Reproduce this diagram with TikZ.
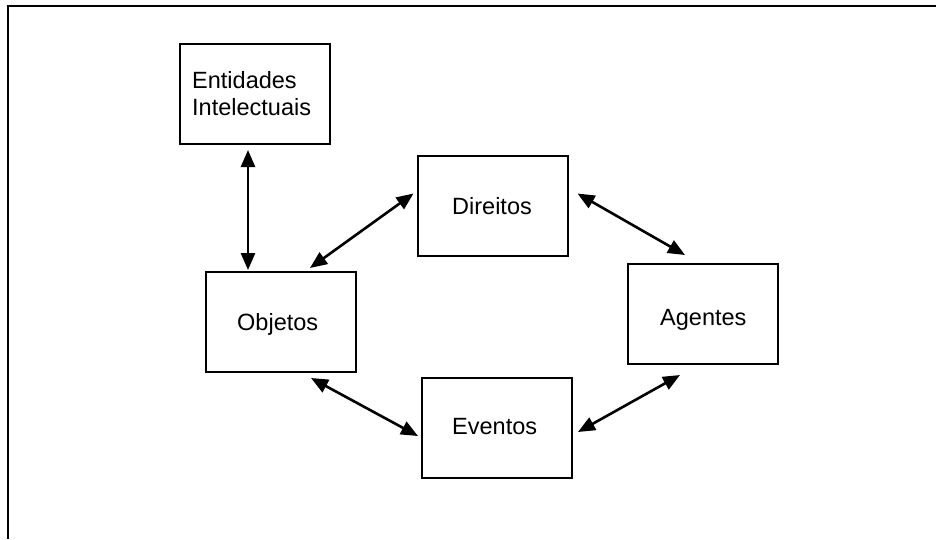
\documentclass[tikz,border=0pt]{standalone}
\usepackage{fontspec}
\setmainfont{Liberation Sans}
\usetikzlibrary{arrows.meta,calc}
\begin{document}
\begin{tikzpicture}[x=1pt,y=-1pt,
  box/.style={draw,line width=2pt,minimum width=150pt,minimum height=100pt,inner sep=0pt},
  lbl/.style={anchor=base west,inner sep=0pt,font=\fontsize{23.5}{27}\selectfont},
  link/.style={line width=2.6pt,{Triangle[length=17pt,width=14pt]}-{Triangle[length=17pt,width=14pt]}}]
\useasboundingbox (0,0) rectangle (936,539);
\draw[line width=2.4pt] (8,539) -- (8,6) -- (937,6);
\node[box] (ent) at (255,94) {};
\node[box] (dir) at (492.5,205.5) {};
\node[box] (obj) at (281,322) {};
\node[box] (age) at (703,314) {};
\node[box] (eve) at (497,428) {};
\node[lbl,align=left] (tent) at (192,115) {Entidades\\Intelectuais};
\node[lbl] (tdir) at (452,214) {Direitos};
\node[lbl] (tobj) at (237,330) {Objetos};
\node[lbl] (tage) at (660,325) {Agentes};
\node[lbl] (teve) at (452,434) {Eventos};
\draw[link] ($(ent.south)+(-7,5)$) -- ($(obj.north)+(-33,-1)$);
\draw[link] ($(dir.west)+(-3,-12)$) -- ($(obj.north)+(29,-3)$);
\draw[link] ($(dir.east)+(9,-12)$) -- ($(age.north)+(-18,-8)$);
\draw[link] ($(obj.south)+(30,5)$) -- ($(eve.west)+(-3,8)$);
\draw[link] ($(eve.east)+(5,4)$) -- ($(age.south)+(-23,10)$);
\end{tikzpicture}
\end{document}
